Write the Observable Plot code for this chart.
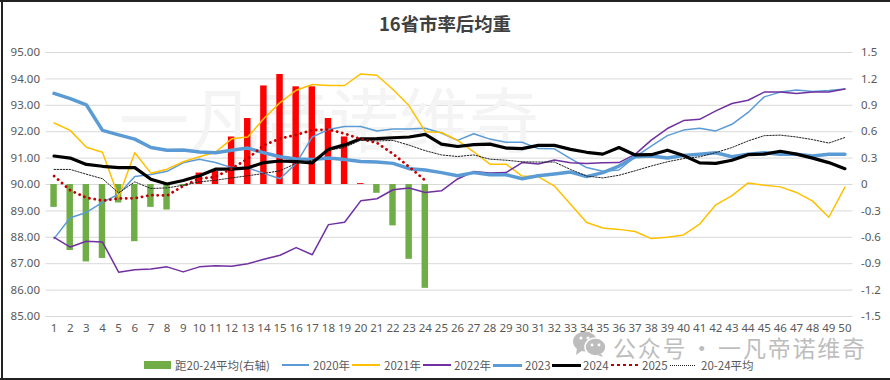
<!DOCTYPE html>
<html><head><meta charset="utf-8">
<script src="https://cdn.jsdelivr.net/npm/d3@7"></script>
<script src="https://cdn.jsdelivr.net/npm/@observablehq/plot@0.6"></script>
<style>
html,body{margin:0;padding:0;background:#fff}
#frame{position:relative;width:890px;height:380px;overflow:hidden;font-family:"Liberation Sans","Noto Sans CJK SC",sans-serif;background:#fff}
#bl{position:absolute;left:1px;top:0;width:2px;height:380px;background:#222}
#bb{position:absolute;left:0;top:378px;height:2px;width:890px;background:#222}
#bt{position:absolute;left:0;top:0;height:1.5px;width:890px;background:#222}
#title{height:42px;line-height:46px;text-align:center;font-size:18.4px;font-weight:bold;color:#404040;font-family:"Noto Sans CJK SC",sans-serif}
#chart svg{display:block}
.lg{position:absolute;top:358px;font-size:11.5px;line-height:14px;color:#595959;white-space:nowrap;font-family:"Noto Sans CJK SC",sans-serif}
.sw{position:absolute}
#wm{position:absolute;left:613px;top:338px;font-size:23px;line-height:18px;letter-spacing:1.8px;word-spacing:-4px;color:#bdbdbd;white-space:nowrap;font-family:"Noto Sans CJK SC",sans-serif}
#icon{position:absolute;left:572px;top:331px}
</style></head><body>
<div id="frame">
<div id="title">16省市率后均重</div>
<div id="chart"></div>
<div id="legend"></div>
<div id="wm">公众号 · 一凡帝诺维奇</div>
<svg id="icon" width="36" height="26" viewBox="0 0 36 26">
  <ellipse cx="13" cy="10.5" rx="12" ry="10" fill="#bdbdbd"/>
  <path d="M5 17 L4 24 L11 19 Z" fill="#bdbdbd"/>
  <ellipse cx="23.5" cy="16" rx="10.5" ry="9" fill="#bdbdbd" stroke="#fff" stroke-width="1.5"/>
  <path d="M29 23 L31 26 L25 24 Z" fill="#bdbdbd"/>
  <circle cx="9" cy="7" r="1.6" fill="#fff"/><circle cx="16" cy="7" r="1.6" fill="#fff"/>
  <circle cx="20" cy="14" r="1.4" fill="#fff"/><circle cx="27" cy="14" r="1.4" fill="#fff"/>
</svg>
<div id="bl"></div><div id="bb"></div><div id="bt"></div>
</div>
<script>
const weeks = d3.range(1, 51);
const y2020 = [87.95,88.74,88.94,89.32,89.63,90.3,90.38,90.5,90.82,90.96,90.83,90.64,90.63,90.42,90.22,90.8,91.8,92.08,92.2,92.2,92.03,92.1,92.1,92.13,91.95,91.67,91.92,91.72,91.6,91.6,91.36,91.35,90.98,90.64,90.5,90.55,91.05,91.45,91.85,92.06,92.13,92.03,92.28,92.73,93.32,93.5,93.58,93.52,93.56,93.62];
const y2021 = [92.33,92.05,91.41,91.22,89.53,91.2,90.43,90.58,90.86,91.05,91.22,91.73,91.8,92.5,93.1,93.57,93.79,93.75,93.75,94.19,94.14,93.6,92.98,92.0,91.97,91.67,91.24,90.77,90.77,90.32,90.3,89.94,89.25,88.56,88.35,88.3,88.22,87.95,88.0,88.09,88.5,89.23,89.58,90.06,89.97,89.91,89.7,89.37,88.76,89.9];
const y2022 = [88.0,87.63,87.85,87.82,86.68,86.77,86.8,86.88,86.69,86.88,86.92,86.9,87.0,87.17,87.32,87.61,87.34,88.48,88.57,89.38,89.46,89.8,89.87,89.7,89.76,90.21,90.49,90.44,90.45,90.83,90.78,90.93,90.82,90.8,90.82,90.83,91.14,91.68,92.12,92.42,92.47,92.79,93.07,93.19,93.5,93.5,93.45,93.5,93.5,93.62];
const y2023 = [93.45,93.25,93.02,92.05,91.88,91.72,91.4,91.3,91.31,91.23,91.2,91.3,91.38,91.2,91.05,90.97,90.95,91.0,90.95,90.87,90.85,90.8,90.6,90.55,90.45,90.33,90.45,90.37,90.37,90.22,90.33,90.4,90.47,90.3,90.45,90.7,91.05,91.08,91.0,91.1,91.15,91.2,91.05,91.15,91.2,91.15,91.15,91.08,91.15,91.15];
const y2024 = [91.08,91.0,90.76,90.69,90.64,90.64,90.2,90.02,90.15,90.33,90.58,90.58,90.63,90.83,90.89,90.87,90.82,91.33,91.5,91.73,91.74,91.77,91.8,91.9,91.53,91.44,91.51,91.53,91.38,91.36,91.48,91.48,91.33,91.22,91.15,91.4,91.12,91.13,91.3,91.1,90.82,90.8,90.92,91.13,91.15,91.26,91.15,91.0,90.83,90.6];
const y2025 = [90.32,89.78,89.5,89.39,89.47,89.48,89.6,89.58,89.94,90.22,90.29,90.6,90.98,91.49,91.74,91.88,92.06,92.08,91.93,91.72,91.58,91.16,90.67,90.15];
const avg2024 = [90.57,90.57,90.39,90.22,89.68,90.1,89.85,89.87,89.97,90.1,90.16,90.25,90.33,90.42,90.52,90.8,90.92,91.3,91.4,91.68,91.65,91.67,91.49,91.28,91.12,91.06,91.12,90.96,90.92,90.86,90.85,90.85,90.57,90.32,90.25,90.35,90.52,90.7,90.86,90.98,91.05,91.21,91.4,91.65,91.85,91.87,91.8,91.7,91.57,91.78];
const diff = [-0.26,-0.75,-0.88,-0.84,-0.21,-0.65,-0.26,-0.29,-0.02,0.13,0.15,0.54,0.75,1.12,1.25,1.11,1.11,0.75,0.54,0.01,-0.10,-0.47,-0.85,-1.18];
const leftTicks = [85,86,87,88,89,90,91,92,93,94,95];
const rightLabels = ["-1.5","-1.2","-0.9","-0.6","-0.3","0","0.3","0.6","0.9","1.2","1.5"];
const legendItems = ["距20-24平均(右轴)","2020年","2021年","2022年","2023","2024","2025","20-24平均"];
const toLeft = v => 90 + v / 0.3;

const ln = (arr, stroke, sw, extra = {}) => Plot.line(arr, {x: (d, i) => i + 1, y: d => d, stroke, strokeWidth: sw, ...extra});

const plot = Plot.plot({
  width: 890, height: 300,
  marginTop: 10, marginBottom: 26, marginLeft: 45.5, marginRight: 37.5,
  x: {type: "band", domain: weeks, paddingInner: 0.6, paddingOuter: 0.3, align: 0.5, round: false},
  y: {domain: [85, 95], range: [274, 10]},
  style: {fontFamily: "Liberation Sans, sans-serif", background: "transparent"},
  marks: [
    Plot.gridY(leftTicks, {stroke: "#d9d9d9", strokeOpacity: 1, strokeWidth: 1}),
    Plot.text(["一凡帝诺维奇"], {frameAnchor: "top-left", dx: 73, dy: 45, fontSize: 70, fill: "#f4f4f4", textAnchor: "start", fontFamily: "Noto Sans CJK SC"}),
    Plot.axisY(leftTicks, {anchor: "left", tickSize: 0, tickPadding: 6, fontSize: 11.5, color: "#595959", label: null, tickFormat: d => d.toFixed(2)}),
    Plot.axisY(leftTicks, {anchor: "right", tickSize: 0, tickPadding: 8, fontSize: 11.5, color: "#595959", label: null, textAnchor: "start", tickFormat: (d, i) => rightLabels[i]}),
    Plot.axisX(weeks, {anchor: "bottom", tickSize: 0, tickPadding: 7, fontSize: 11.5, color: "#595959", label: null}),
    Plot.barY(diff, {x: (d, i) => i + 1, y1: 90, y2: d => toLeft(d), fill: d => d >= 0 ? "#ff0000" : "#70ad47"}),
    ln(y2020, "#5b9bd5", 1.5),
    ln(y2021, "#ffc000", 1.5),
    ln(y2022, "#7030a0", 1.5),
    ln(y2023, "#5b9bd5", 3.5),
    ln(y2024, "#000000", 3.2),
    ln(y2025, "#c00000", 2.8, {strokeDasharray: "0.1 5.2", strokeLinecap: "round"}),
    ln(avg2024, "#222222", 1, {strokeDasharray: "1.5 1.5"})
  ]
});
plot.removeAttribute("style");
plot.style.background = "transparent";
document.getElementById("chart").appendChild(plot);

const swatches = [
  {l:144,w:27,h:8,bg:"#70ad47"},
  {l:282,w:27,h:1.5,bg:"#5b9bd5"},
  {l:352,w:28,h:1.5,bg:"#ffc000"},
  {l:423,w:28,h:1.5,bg:"#7030a0"},
  {l:493,w:29,h:3,bg:"#5b9bd5"},
  {l:552,w:29,h:3,bg:"#000"},
  {l:611,w:27,h:2.5,dots:"#c00000"},
  {l:670,w:25,h:1,dots2:"#222"}
];
const lx = [175,313,384,454,525,583,642,701];
const lg = document.getElementById("legend");
legendItems.forEach((t, i) => {
  const s = document.createElement("div"); s.className = "sw";
  const w = swatches[i];
  s.style.cssText = `left:${w.l}px;top:${365 - w.h/2}px;width:${w.w}px;height:${w.h}px;` +
    (w.bg ? `background:${w.bg}` : w.dots ? `background:repeating-linear-gradient(90deg,${w.dots} 0 2.5px,transparent 2.5px 6px)` : `background:repeating-linear-gradient(90deg,${w.dots2} 0 1px,transparent 1px 2px)`);
  lg.appendChild(s);
  const d = document.createElement("div"); d.className = "lg"; d.textContent = t; d.style.left = lx[i] + "px";
  lg.appendChild(d);
});
</script>
</body></html>
